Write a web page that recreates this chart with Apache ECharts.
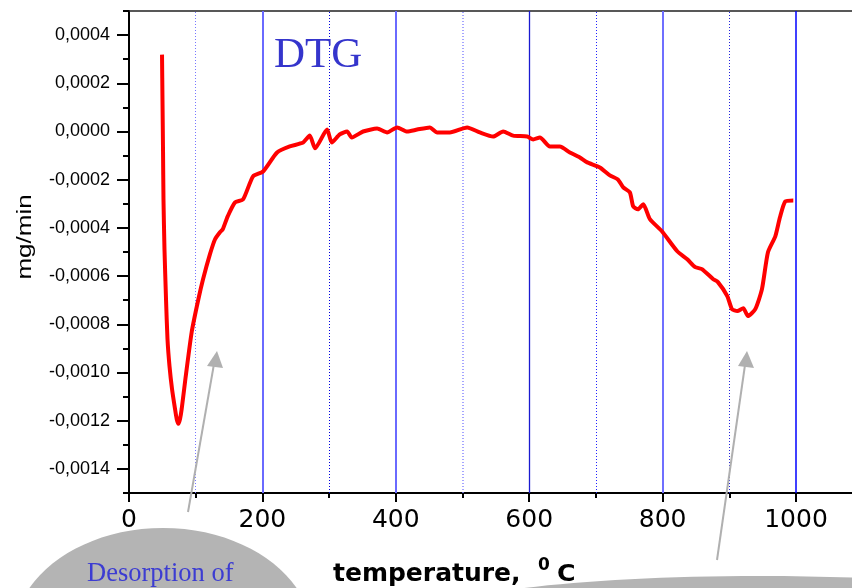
<!DOCTYPE html>
<html>
<head>
<meta charset="utf-8">
<script src="https://cdn.jsdelivr.net/npm/echarts@6/dist/echarts.min.js"></script>
<style>html,body{margin:0;padding:0;background:#fff;}#c{width:852px;height:588px;}</style>
</head>
<body>
<div id="c"></div>
<script>
// ---- data ----
const temperature = [49.5, 50.2, 51, 51.7, 53.2, 55.5, 57.7, 60.7, 64.5, 69, 71.5, 74, 76.5, 79, 84, 94, 104, 111, 121.4, 129, 136.4, 140.5, 148, 159, 171, 186, 201, 222, 241, 261, 271, 279, 297, 304, 316, 327, 334, 351, 372, 387, 402, 417, 432, 451, 462, 481, 507, 526, 546, 561, 576, 597, 606, 616, 631, 646, 661, 676, 687, 706, 721, 733, 741, 751, 756, 763, 771, 781, 799, 822, 837, 849, 859, 876, 883, 897, 904, 912, 921, 928, 939, 949, 958, 969, 976, 984, 996];
const dtg = [3.19e-4, 1.33e-4, -0.75e-4, -2.82e-4, -4.89e-4, -6.96e-4, -8.61e-4, -9.73e-4, -10.68e-4, -11.51e-4, -11.93e-4, -12.13e-4, -11.93e-4, -11.51e-4, -10.39e-4, -8.32e-4, -6.96e-4, -6.13e-4, -5.09e-4, -4.47e-4, -4.18e-4, -4.06e-4, -3.52e-4, -2.94e-4, -2.82e-4, -1.86e-4, -1.66e-4, -0.87e-4, -0.62e-4, -0.46e-4, -0.17e-4, -0.70e-4, 0.08e-4, -0.46e-4, -0.12e-4, 0, -0.25e-4, 0, 0.12e-4, -0.04e-4, 0.17e-4, 0, 0.08e-4, 0.17e-4, -0.04e-4, -0.04e-4, 0.17e-4, -0.04e-4, -0.21e-4, 0, -0.17e-4, -0.21e-4, -0.33e-4, -0.25e-4, -0.62e-4, -0.62e-4, -0.87e-4, -1.08e-4, -1.28e-4, -1.49e-4, -1.82e-4, -1.99e-4, -2.32e-4, -2.53e-4, -3.11e-4, -3.23e-4, -3.02e-4, -3.64e-4, -4.14e-4, -4.97e-4, -5.30e-4, -5.63e-4, -5.71e-4, -6.13e-4, -6.25e-4, -6.83e-4, -7.37e-4, -7.45e-4, -7.33e-4, -7.66e-4, -7.37e-4, -6.54e-4, -5.01e-4, -4.35e-4, -3.56e-4, -2.90e-4, -2.86e-4];
const xLabelValues = [0, 200, 400, 600, 800, 1000];
const xMinorTicks = [100, 300, 500, 700, 900];
const yLabelValues = [-0.0014, -0.0012, -0.0010, -0.0008, -0.0006, -0.0004, -0.0002, 0, 0.0002, 0.0004];
const yMinorTicks = [-0.0015, -0.0013, -0.0011, -0.0009, -0.0007, -0.0005, -0.0003, -0.0001, 0.0001, 0.0003, 0.0005];
const gridTemps = [100, 200, 300, 400, 500, 600, 700, 800, 900, 1000];

// ---- styles ----
const gridStyles = {
  100: {color: '#7777ff', width: 1, type: [1, 2]},
  200: {color: '#6a6aff', width: 2, type: 'solid'},
  300: {color: '#0000e0', width: 1, type: [1, 2]},
  400: {color: '#6a6aff', width: 2, type: 'solid'},
  500: {color: '#8888ff', width: 1.5, type: [1, 2]},
  600: {color: '#1a1ad0', width: 1.3, type: 'solid'},
  700: {color: '#2222ff', width: 1, type: [1, 2]},
  800: {color: '#6f6fff', width: 2, type: 'solid'},
  900: {color: '#2222dd', width: 1, type: [1, 2]},
  1000: {color: '#0000ff', width: 1.5, type: 'solid'}
};

const chart = echarts.init(document.getElementById('c'), null, {renderer: 'canvas'});
const fmtY = v => v.toFixed(4).replace('.', ',').replace('-0,0000', '0,0000');
const fmtX = v => String(Math.round(v));
const axisLineStyle = {color: '#000', width: 2};

chart.setOption({
  animation: false,
  backgroundColor: '#fff',
  title: {
    text: 'DTG', left: 269, top: 29,
    textStyle: {fontFamily: 'Liberation Serif', fontSize: 43, fontWeight: 'normal', color: '#3535cc'}
  },
  grid: {left: 129, right: 0, top: 11, bottom: 95, containLabel: false},
  xAxis: [
    {
      type: 'value', min: 0, max: 1084, position: 'bottom',
      axisLine: {show: true, onZero: false, lineStyle: axisLineStyle},
      axisTick: {show: true, inside: false, length: 9, lineStyle: {color: '#000', width: 2}, customValues: xLabelValues},
      axisLabel: {show: true, customValues: xLabelValues, formatter: fmtX, margin: 15, fontFamily: 'DejaVu Sans', fontSize: 25, color: '#000'},
      splitLine: {show: false}
    },
    {
      type: 'value', min: 0, max: 1084, position: 'bottom',
      axisLine: {show: false, onZero: false},
      axisTick: {show: true, inside: false, length: 5, lineStyle: {color: '#000', width: 2}, customValues: xMinorTicks},
      axisLabel: {show: false},
      splitLine: {show: false}
    },
    {
      type: 'value', min: 0, max: 1084, position: 'top',
      axisLine: {show: true, onZero: false, lineStyle: {color: '#222', width: 1.5}},
      axisTick: {show: false}, axisLabel: {show: false}, splitLine: {show: false}
    }
  ],
  yAxis: [
    {
      type: 'value', min: -0.0015, max: 0.0005, position: 'left',
      axisLine: {show: true, onZero: false, lineStyle: axisLineStyle},
      axisTick: {show: true, inside: false, length: 12, lineStyle: {color: '#000', width: 2}, customValues: yLabelValues},
      axisLabel: {show: true, customValues: yLabelValues, margin: 19, formatter: fmtY, fontFamily: 'Liberation Sans', fontSize: 18, color: '#000'},
      splitLine: {show: false}
    },
    {
      type: 'value', min: -0.0015, max: 0.0005, position: 'left',
      axisLine: {show: false, onZero: false},
      axisTick: {show: true, inside: false, length: 6, lineStyle: {color: '#000', width: 2}, customValues: yMinorTicks},
      axisLabel: {show: false},
      splitLine: {show: false}
    }
  ],
  series: [
    {
      type: 'line', data: [], silent: true,
      markLine: {
        silent: true, symbol: 'none', animation: false,
        label: {show: false},
        data: gridTemps.map(t => ({xAxis: t, lineStyle: gridStyles[t]}))
      }
    },
    {
      type: 'line', name: 'DTG',
      data: temperature.map((t, i) => [t, dtg[i]]),
      showSymbol: false, smooth: 0.2,
      lineStyle: {color: '#ff0000', width: 4},
      z: 5
    }
  ],
  graphic: [
    {type: 'ellipse', shape: {cx: 163, cy: 638, rx: 150, ry: 110}, style: {fill: '#b4b4b4'}, z: 1},
    {type: 'ellipse', shape: {cx: 760, cy: 616, rx: 330, ry: 40}, style: {fill: '#b4b4b4'}, z: 1},
    {type: 'text', x: 87, y: 574, style: {text: 'Desorption of', fontFamily: 'Liberation Serif', fontSize: 26.5, fill: '#3c3cd2', verticalAlign: 'middle'}, z: 10},
    {type: 'text', x: 333, y: 574, style: {text: 'temperature,', fontFamily: 'DejaVu Sans', fontWeight: 'bold', fontSize: 25, fill: '#000', verticalAlign: 'middle'}, z: 10},
    {type: 'text', x: 538, y: 566, style: {text: '0', fontFamily: 'DejaVu Sans', fontWeight: 'bold', fontSize: 17, fill: '#000', verticalAlign: 'middle'}, z: 10},
    {type: 'text', x: 557, y: 575, scaleX: 1.1, style: {text: 'C', fontFamily: 'DejaVu Sans', fontWeight: 'bold', fontSize: 23, fill: '#000', verticalAlign: 'middle'}, z: 10},
    {type: 'text', x: 25, y: 237, rotation: Math.PI / 2, scaleX: 1.3, style: {text: 'mg/min', fontFamily: 'Liberation Sans', fontSize: 20, fill: '#000', align: 'center', verticalAlign: 'middle'}, z: 10},
    // annotation arrows
    {type: 'line', shape: {x1: 188, y1: 512, x2: 214, y2: 364}, style: {stroke: '#b0b0b0', lineWidth: 2}, z: 10},
    {type: 'polygon', shape: {points: [[217, 351], [207, 366], [223, 368]]}, style: {fill: '#b0b0b0'}, z: 10},
    {type: 'line', shape: {x1: 717, y1: 560, x2: 745, y2: 365}, style: {stroke: '#b0b0b0', lineWidth: 2}, z: 10},
    {type: 'polygon', shape: {points: [[747, 351], [738, 366], [754, 368]]}, style: {fill: '#b0b0b0'}, z: 10}
  ]
});
</script>
</body>
</html>
